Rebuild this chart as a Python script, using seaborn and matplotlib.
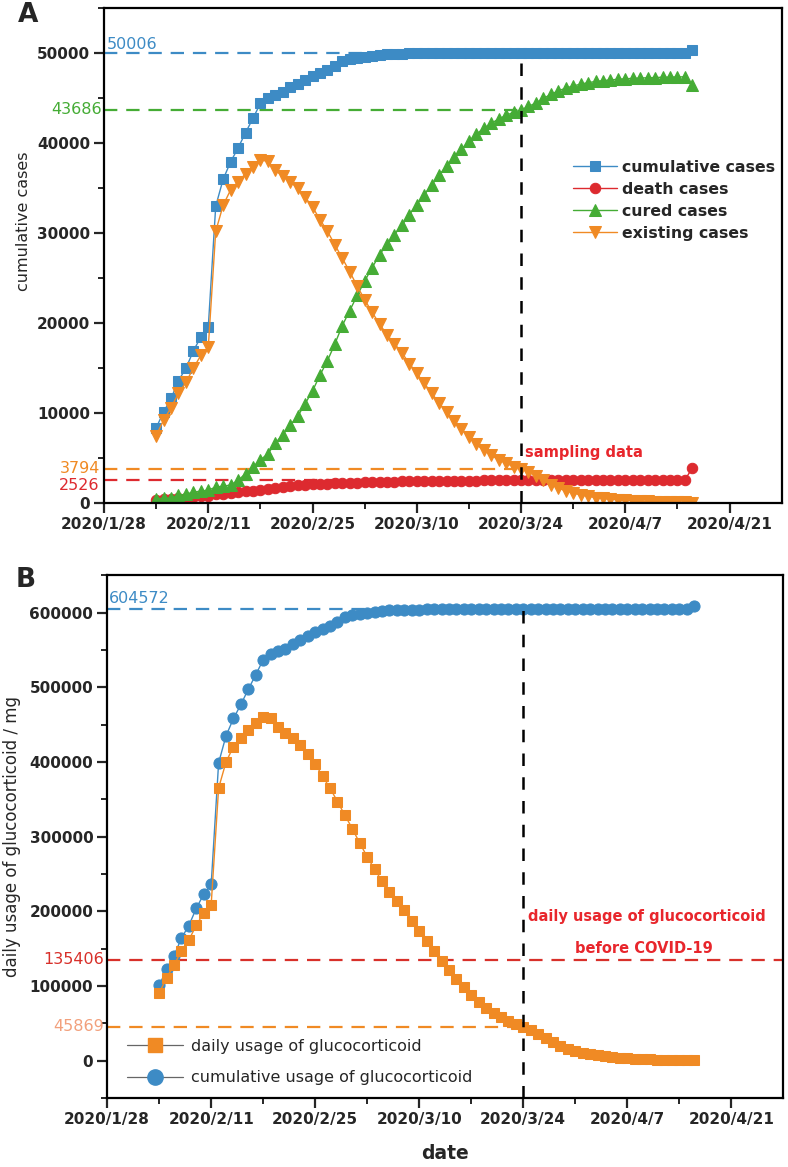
import pandas as pd
import seaborn as sns
import matplotlib.pyplot as plt
import matplotlib.dates as mdates
from matplotlib.lines import Line2D
from matplotlib.ticker import FixedLocator, MultipleLocator, FuncFormatter

# one point per day, 2020/2/4 .. 2020/4/16
dates = pd.date_range("2020-02-04", "2020-04-16", freq="D")

cumulative_cases = [
    8351, 10117, 11618, 13603, 14982, 16902, 18454, 19558, 32994, 35991,
    37914, 39462, 41152, 42752, 44412, 45027, 45346, 45660, 46201, 46607,
    47071, 47441, 47824, 48137, 48557, 49122, 49315, 49426, 49540, 49671,
    49797, 49871, 49912, 49948, 49965, 49978, 49986, 49991, 49995, 49999,
    50003, 50004, 50004, 50004, 50005, 50005, 50005, 50005, 50006, 50006,
    50006, 50006, 50006, 50006, 50006, 50007, 50007, 50007, 50007, 50008,
    50008, 50008, 50008, 50008, 50008, 50008, 50008, 50008, 50008, 50008,
    50008, 50008, 50333]
death_cases = [
    362, 414, 478, 545, 608, 681, 748, 820, 1036, 1016,
    1123, 1233, 1309, 1381, 1497, 1585, 1684, 1774, 1856, 1987,
    2043, 2085, 2104, 2132, 2169, 2195, 2227, 2251, 2282, 2305,
    2330, 2349, 2370, 2388, 2404, 2423, 2430, 2436, 2446, 2456,
    2469, 2480, 2492, 2496, 2503, 2508, 2513, 2517, 2524, 2526,
    2531, 2535, 2538, 2542, 2547, 2548, 2550, 2553, 2555, 2557,
    2560, 2563, 2567, 2570, 2572, 2573, 2575, 2576, 2577, 2578,
    2579, 2579, 3869]
cured_cases = [
    489, 503, 540, 858, 974, 1221, 1306, 1438, 1758, 1875,
    1991, 2529, 3243, 3971, 4815, 5442, 6662, 7586, 8645, 9620,
    11028, 12456, 14220, 15805, 17688, 19727, 21388, 23075, 24658, 26166,
    27567, 28822, 29842, 30860, 32061, 33155, 34256, 35355, 36449, 37443,
    38434, 39324, 40212, 41008, 41652, 42197, 42692, 43088, 43432, 43686,
    44075, 44471, 44968, 45414, 45809, 46109, 46357, 46554, 46722, 46851,
    46948, 47025, 47091, 47148, 47196, 47235, 47263, 47292, 47321, 47340,
    47359, 47369, 46414]
existing_cases = [
    7500, 9200, 10600, 12200, 13400, 15000, 16400, 17300, 30200, 33100,
    34800, 35700, 36600, 37400, 38100, 38000, 37000, 36300, 35700, 35000,
    34000, 32900, 31500, 30200, 28700, 27200, 25700, 24100, 22600, 21200,
    19900, 18700, 17700, 16700, 15500, 14400, 13300, 12200, 11100, 10100,
    9100, 8200, 7300, 6500, 5850, 5300, 4800, 4400, 4050, 3794,
    3400, 3000, 2500, 2050, 1650, 1350, 1100, 900, 730, 600,
    500, 420, 350, 290, 240, 200, 170, 140, 110, 90,
    70, 60, 50]

daily_usage = [
    90675, 111228, 128154, 147498, 162006, 181350, 198276, 209157, 365118, 400179,
    420732, 431613, 442494, 452166, 460629, 459420, 447330, 438867, 431613, 423150,
    411060, 397761, 380835, 365118, 346983, 328848, 310713, 291369, 273234, 256308,
    240591, 226083, 213993, 201903, 187395, 174096, 160797, 147498, 134199, 122109,
    110019, 99138, 88257, 78585, 70727, 64077, 58032, 53196, 48965, 45869,
    41106, 36270, 30225, 24785, 19949, 16322, 13299, 10881, 8826, 7254,
    6045, 5078, 4232, 3506, 2902, 2418, 2055, 1693, 1330, 1088,
    846, 725, 605]
cumulative_usage = [
    100963, 122315, 140462, 164460, 181132, 204345, 223109, 236456, 398897, 435131,
    458380, 477096, 497528, 516872, 536941, 544376, 548233, 552029, 558570, 563479,
    569088, 573562, 578192, 581976, 587054, 593885, 596218, 597560, 598939, 600522,
    602046, 602940, 603436, 603871, 604077, 604234, 604331, 604391, 604440, 604488,
    604536, 604548, 604548, 604548, 604560, 604560, 604560, 604560, 604572, 604572,
    604572, 604572, 604572, 604572, 604572, 604585, 604585, 604585, 604585, 604597,
    604597, 604597, 604597, 604597, 604597, 604597, 604597, 604597, 604597, 604597,
    604597, 604597, 608526]

sample_day = pd.Timestamp("2020-03-24")
sample_cum, sample_death, sample_cured, sample_exist = 50006, 2526, 43686, 3794
usage_total, usage_before, usage_sample = 604572, 135406, 45869

x_major = pd.date_range("2020-01-28", "2020-04-21", freq="14D")
x_minor = pd.date_range("2020-02-04", "2020-04-14", freq="14D")
x_lim = (pd.Timestamp("2020-01-28"), pd.Timestamp("2020-04-28"))

BLUE = "#3d8bc5"
RED = "#dd2a2f"
GREEN = "#45ac35"
ORANGE = "#f08a24"
SALMON = "#f2a07c"
TXTRED = "#e8262c"

sns.set_style("ticks")
plt.rcParams["font.family"] = ["DejaVu Sans"]
plt.rcParams["axes.linewidth"] = 1.6

df = pd.DataFrame({"date": dates, "cum": cumulative_cases, "death": death_cases,
                   "cured": cured_cases, "exist": existing_cases,
                   "daily": daily_usage, "cumuse": cumulative_usage})

fig = plt.figure(figsize=(7.88, 11.67), dpi=100)
ax1 = fig.add_axes([0.132, 0.569, 0.860, 0.424])
ax2 = fig.add_axes([0.136, 0.059, 0.858, 0.448])


def date_fmt(v, pos):
    d = mdates.num2date(v)
    return f"{d.year}/{d.month}/{d.day}"


def style_axis(ax):
    ax.set_xlim(*x_lim)
    ax.xaxis.set_major_locator(FixedLocator(mdates.date2num(x_major)))
    ax.xaxis.set_minor_locator(FixedLocator(mdates.date2num(x_minor)))
    ax.xaxis.set_major_formatter(FuncFormatter(date_fmt))
    ax.tick_params(which="major", direction="out", length=7, width=1.6, pad=3,
                   labelsize=11)
    ax.tick_params(which="minor", direction="out", length=4, width=1.4)
    for lab in ax.get_xticklabels() + ax.get_yticklabels():
        lab.set_fontweight("bold")
    for s in ax.spines.values():
        s.set_visible(True)
        s.set_linewidth(1.6)
        s.set_color("black")


dash_h = (0, (6, 4))
dash_v = (0, (5, 4.5))

# ---------------- panel A ----------------
ax = ax1
ax.hlines(sample_cum, x_lim[0], sample_day, colors=BLUE, linestyles=dash_h, lw=1.6, zorder=1)
ax.hlines(sample_cured, x_lim[0], sample_day, colors=GREEN, linestyles=dash_h, lw=1.6, zorder=1)
ax.hlines(sample_exist, x_lim[0], sample_day, colors=ORANGE, linestyles=dash_h, lw=1.6, zorder=1)
ax.hlines(sample_death, x_lim[0], sample_day, colors=RED, linestyles=dash_h, lw=1.6, zorder=1)

sns.lineplot(data=df, x="date", y="cum", ax=ax, color=BLUE, lw=1.0, marker="s",
             markersize=6.5, markeredgecolor=BLUE, label="cumulative cases", zorder=2)
sns.lineplot(data=df, x="date", y="death", ax=ax, color=RED, lw=1.0, marker="o",
             markersize=7.5, markeredgecolor=RED, label="death cases", zorder=2)
sns.lineplot(data=df, x="date", y="cured", ax=ax, color=GREEN, lw=1.0, marker="^",
             markersize=8, markeredgecolor=GREEN, label="cured cases", zorder=2)
sns.lineplot(data=df, x="date", y="exist", ax=ax, color=ORANGE, lw=1.0, marker="v",
             markersize=8, markeredgecolor=ORANGE, label="existing cases", zorder=2)

ax.vlines(sample_day, 0, sample_cum, colors="black", linestyles=dash_v, lw=1.8, zorder=5)

ax.set_ylim(0, 55000)
ax.yaxis.set_major_locator(MultipleLocator(10000))
ax.yaxis.set_minor_locator(MultipleLocator(5000))
style_axis(ax)
ax.set_xlabel("")
ax.set_ylabel("cumulative cases", fontsize=11.5)
ax.yaxis.set_label_coords(-0.108, 0.57)

ax.annotate(f"{sample_cum}", (x_lim[0], sample_cum), xytext=(2, 6),
            textcoords="offset points", color=BLUE, fontsize=11.5, ha="left", va="center")
ytr = ax.get_yaxis_transform()
ax.text(-0.003, sample_cured, f"{sample_cured}", transform=ytr, color=GREEN,
        fontsize=11.5, ha="right", va="center")
ax.text(-0.005, sample_exist, f"{sample_exist}", transform=ytr, color=ORANGE,
        fontsize=11.5, ha="right", va="center")
ax.annotate(f"{sample_death}", (0, sample_death), xycoords=ytr, xytext=(-3, -4),
            textcoords="offset points", color=RED, fontsize=11.5, ha="right", va="center")
ax.text(sample_day + pd.Timedelta(days=0.5), 5600, "sampling data", color=TXTRED,
        fontsize=10.5, fontweight="bold", ha="left", va="center")

leg = ax.legend(loc="center left", bbox_to_anchor=(0.692, 0.612), frameon=False,
                borderpad=0, borderaxespad=0, handlelength=2.8, handletextpad=0.3,
                labelspacing=0.45, prop={"weight": "bold", "size": 11.3})

# ---------------- panel B ----------------
ax = ax2
ax.hlines(usage_total, x_lim[0], sample_day, colors=BLUE, linestyles=dash_h, lw=1.6, zorder=1)
ax.hlines(usage_sample, x_lim[0], sample_day, colors=ORANGE, linestyles=dash_h, lw=1.6, zorder=1)
ax.axhline(usage_before, color="#d8302a", ls=dash_h, lw=1.6, zorder=1)

sns.lineplot(data=df, x="date", y="cumuse", ax=ax, color=BLUE, lw=1.0, marker="o",
             markersize=8, markeredgecolor=BLUE, zorder=2)
sns.lineplot(data=df, x="date", y="daily", ax=ax, color=ORANGE, lw=1.0, marker="s",
             markersize=6.5, markeredgecolor=ORANGE, zorder=3)

ax.vlines(sample_day, -50000, usage_total, colors="black", linestyles=dash_v, lw=1.8, zorder=5)

ax.set_ylim(-50000, 650000)
ax.yaxis.set_major_locator(FixedLocator(list(range(0, 600001, 100000))))
ax.yaxis.set_minor_locator(FixedLocator(list(range(-50000, 650001, 100000))))
ax.yaxis.set_major_formatter(FuncFormatter(lambda v, p: f"{int(v)}"))
style_axis(ax)
ax.set_ylabel("daily usage of glucocorticoid / mg", fontsize=12)
ax.yaxis.set_label_coords(-0.128, 0.5)
ax.set_xlabel("date", fontsize=13.5, fontweight="bold")
ax.xaxis.set_label_coords(0.5, -0.088)

ax.annotate(f"{usage_total}", (x_lim[0], usage_total), xytext=(1, 8),
            textcoords="offset points", color=BLUE, fontsize=11.5, ha="left", va="center")
ytr = ax.get_yaxis_transform()
ax.text(-0.004, usage_before, f"{usage_before}", transform=ytr, color="#d8302a",
        fontsize=11.5, ha="right", va="center")
ax.text(-0.004, usage_sample, f"{usage_sample}", transform=ytr, color=SALMON,
        fontsize=11.5, ha="right", va="center")
ax.text(sample_day + pd.Timedelta(days=0.6), 193000, "daily usage of glucocorticoid",
        color=TXTRED, fontsize=10.5, fontweight="bold", ha="left", va="center")
ax.text(sample_day + pd.Timedelta(days=16.3), 150000, "before COVID-19",
        color=TXTRED, fontsize=10.5, fontweight="bold", ha="center", va="center")

handles = [
    Line2D([], [], color="#666666", lw=0.9, marker="s", markersize=10,
           markerfacecolor=ORANGE, markeredgecolor=ORANGE),
    Line2D([], [], color="#666666", lw=0.9, marker="o", markersize=11,
           markerfacecolor=BLUE, markeredgecolor=BLUE),
]
ax.legend(handles, ["daily usage of glucocorticoid", "cumulative usage of glucocorticoid"],
          loc="center left", bbox_to_anchor=(0.03, 0.069), frameon=False,
          borderpad=0, borderaxespad=0, handlelength=3.5, handletextpad=0.45,
          labelspacing=1.05, prop={"size": 11.5})

fig.text(0.023, 0.987, "A", fontsize=19, fontweight="bold", ha="left", va="center")
fig.text(0.020, 0.503, "B", fontsize=19, fontweight="bold", ha="left", va="center")

fig.savefig("out.png", dpi=100)
